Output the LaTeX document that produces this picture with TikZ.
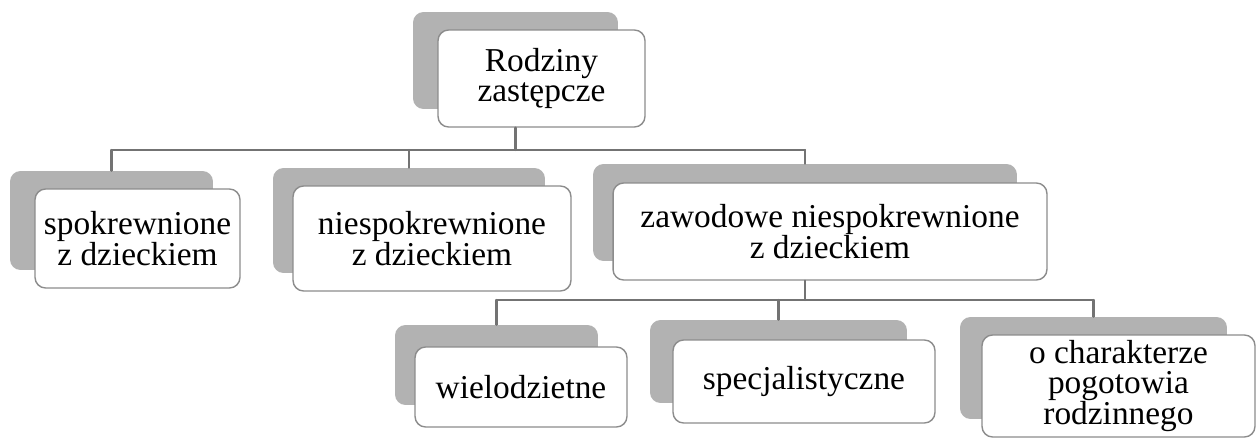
\documentclass[tikz,border=0pt]{standalone}
\usepackage{fontspec}
\setmainfont{Liberation Serif}
\begin{document}
\begin{tikzpicture}[x=0.02cm, y=-0.02cm, line join=round, line cap=round,
		font=\fontsize{19}{17.5}\selectfont,
		famwhite/.style={draw=black!45, line width=0.8pt, fill=white, rounded corners=6pt, align=center, inner sep=0pt},
		famgray/.style={fill=black!30, rounded corners=6pt, inner sep=0pt},
		conn/.style={draw=black!55, line width=1.3pt}]
				\useasboundingbox (0,0) rectangle (1259,439);
				\def\busA{150}\def\busB{300}
				% poziom 1
				\node[famgray, minimum width=4.10cm, minimum height=1.94cm] (rodzinysh) at (515.5,60.5) {};
				\node[famwhite, minimum width=4.14cm, minimum height=1.94cm] (rodziny) at (541.5,78.5) {Rodziny\\zastępcze};
				% poziom 2
				\node[famgray, minimum width=4.06cm, minimum height=1.98cm] (spokrsh) at (111.5,220.5) {};
				\node[famwhite, minimum width=4.10cm, minimum height=1.98cm] (spokr) at (137.5,238.5) {spokrewnione\\z dzieckiem};
				\node[famgray, minimum width=5.44cm, minimum height=2.10cm] (niespokrsh) at (409,220.5) {};
				\node[famwhite, minimum width=5.56cm, minimum height=2.10cm] (niespokr) at (432,238.5) {niespokrewnione\\z dzieckiem};
				\node[famgray, minimum width=8.48cm, minimum height=1.94cm] (zawodsh) at (805,212.5) {};
				\node[famwhite, minimum width=8.68cm, minimum height=1.94cm] (zawod) at (830,231.5) {zawodowe niespokrewnione\\z dzieckiem};
				% poziom 3
				\node[famgray, minimum width=4.06cm, minimum height=1.60cm] (wielosh) at (496.5,365) {};
				\node[famwhite, minimum width=4.24cm, minimum height=1.60cm] (wielo) at (521,387) {wielodzietne};
				\node[famgray, minimum width=5.14cm, minimum height=1.66cm] (specsh) at (778.5,361.5) {};
				\node[famwhite, minimum width=5.24cm, minimum height=1.66cm] (spec) at (804,381.5) {specjalistyczne};
				\node[famgray, minimum width=5.34cm, minimum height=2.04cm] (pogotsh) at (1093.5,368) {};
				\node[famwhite, minimum width=5.46cm, minimum height=2.04cm] (pogot) at (1118.5,386) {o charakterze\\pogotowia\\rodzinnego};
				% linie
				\coordinate (busA) at (0,\busA);
				\coordinate (busB) at (0,\busB);
				\draw[conn] (rodzinysh.center |- rodziny.south) -- (rodzinysh.center |- busA);
				\draw[conn] (spokrsh.north |- busA) -- (zawodsh.north |- busA);
				\foreach \n in {spokrsh,niespokrsh,zawodsh}\draw[conn] (\n.north |- busA) -- (\n.north);
				\draw[conn] (zawodsh.center |- zawod.south) -- (zawodsh.center |- busB);
				\draw[conn] (wielosh.north |- busB) -- (pogotsh.north |- busB);
				\foreach \n in {wielosh,specsh,pogotsh}\draw[conn] (\n.north |- busB) -- (\n.north);
		\end{tikzpicture}
\end{document}
